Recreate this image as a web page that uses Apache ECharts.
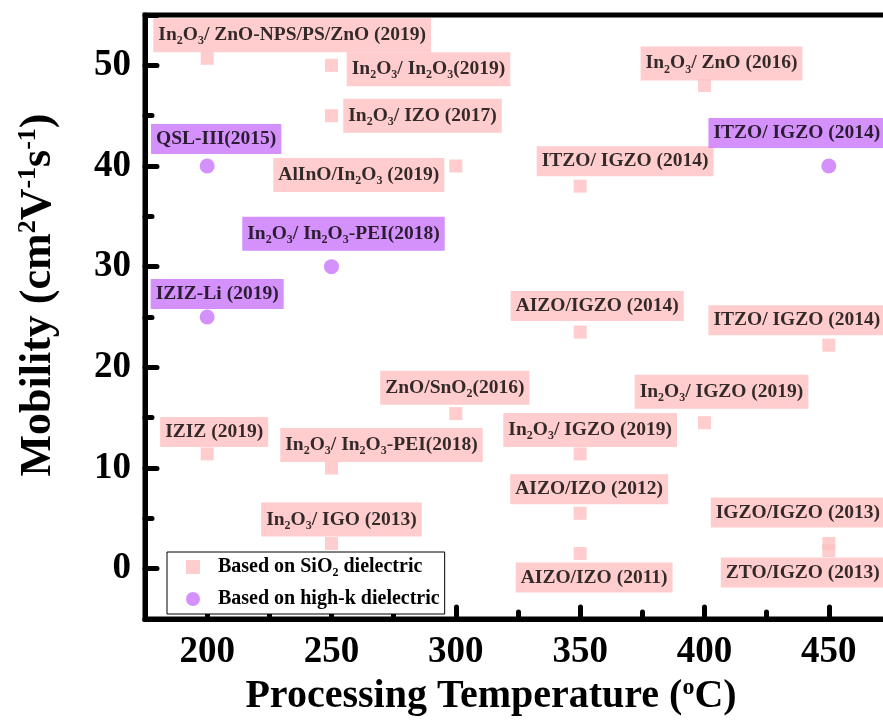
<!DOCTYPE html>
<html>
<head>
<meta charset="utf-8">
<script src="https://cdn.jsdelivr.net/npm/echarts@6/dist/echarts.min.js"></script>
<style>
  html, body { margin: 0; padding: 0; background: #fff; }
  #chart { width: 883px; height: 725px; }
</style>
</head>
<body>
<div id="chart"></div>
<script>
// data
const sio2Temp = [200, 250, 250, 300, 400, 350, 350, 450, 300, 400, 350, 200, 250, 250, 350, 350, 450, 450];
const sio2Mobility = [50.7, 50, 45, 40, 48, 38, 23.5, 22.2, 15.4, 14.5, 11.4, 11.4, 10, 2.5, 5.5, 1.5, 2.5, 1.8];
const sio2Labels = [
    'In₂O₃/ ZnO-NPS/PS/ZnO (2019)', 'In₂O₃/ In₂O₃(2019)', 'In₂O₃/ IZO (2017)', 'AlInO/In₂O₃ (2019)',
    'In₂O₃/ ZnO (2016)', 'ITZO/ IGZO (2014)', 'AIZO/IGZO (2014)', 'ITZO/ IGZO (2014)',
    'ZnO/SnO₂(2016)', 'In₂O₃/ IGZO (2019)', 'In₂O₃/ IGZO (2019)', 'IZIZ (2019)',
    'In₂O₃/ In₂O₃-PEI(2018)', 'In₂O₃/ IGO (2013)', 'AIZO/IZO (2012)', 'AIZO/IZO (2011)',
    'IGZO/IGZO (2013)', 'ZTO/IGZO (2013)'
];
const highkTemp = [200, 250, 200, 450];
const highkMobility = [40, 30, 25, 40];
const highkLabels = ['QSL-III(2015)', 'In₂O₃/ In₂O₃-PEI(2018)', 'IZIZ-Li (2019)', 'ITZO/ IGZO (2014)'];

// where each tag box sits relative to its point (px)
const sio2LabelOffsets = [
    [85, -23], [97, 4], [91, 0], [-97, 9], [17, -22], [45, -25], [17, -26], [-32, -25], [-1, -26],
    [17, -31], [10, -24], [7, -22], [50, -23], [10, -24], [9, -24], [14, 24], [-31, -31], [-26, 22]
];
const highkLabelOffsets = [[9, -27], [12, -33], [10, -23], [-32, -33]];

const FONT = '"Liberation Serif", "Times New Roman", serif';
const PINK = '#FFC0C0';
const PURPLE = '#CB75FA';

const subStyle = { fontSize: 12, fontWeight: 'bold', fontFamily: FONT, color: '#000', padding: [12, 0, 0, 0] };

// ₂ ₃ -> rich subscript
const toRich = (s) => s.replace(/₂/g, '{sub|2}').replace(/₃/g, '{sub|3}');

const tagLabel = (bg) => ({
    show: true,
    position: 'inside',
    formatter: (p) => toRich(p.name),
    color: '#000',
    fontSize: 19.5,
    fontWeight: 'bold',
    fontFamily: FONT,
    backgroundColor: bg,
    padding: [5, 5, 5, 5],
    rich: { sub: subStyle }
});

const chart = echarts.init(document.getElementById('chart'));

const option = {
    animation: false,
    grid: {
        left: 145, right: -8, top: 15, bottom: 106,
        containLabel: false,
        outerBoundsMode: 'none',
        show: true, borderColor: '#000', borderWidth: 5, backgroundColor: 'transparent'
    },
    legend: {
        orient: 'vertical',
        left: 167, top: 552,
        itemWidth: 14, itemHeight: 14, itemGap: 10,
        backgroundColor: '#fff', borderColor: '#000', borderWidth: 1,
        padding: [5, 5, 5, 19],
        formatter: (n) => toRich(n),
        textStyle: {
            fontSize: 20, fontWeight: 'bold', fontFamily: FONT, color: '#000',
            padding: [0, 0, 0, 13],
            rich: { sub: subStyle }
        }
    },
    xAxis: {
        type: 'value',
        min: 175, max: 475,
        minInterval: 50, maxInterval: 50,
        splitLine: { show: false },
        axisLine: { onZero: false, lineStyle: { color: '#000', width: 5 } },
        axisTick: { inside: true, length: 12, lineStyle: { color: '#000', width: 5, cap: 'round' } },
        minorTick: { show: true, splitNumber: 2, length: 7, lineStyle: { color: '#000', width: 5, cap: 'round' } },
        axisLabel: {
            margin: 15, color: '#000', fontSize: 37, fontWeight: 'bold', fontFamily: FONT,
            formatter: (v) => (v % 50 === 0 ? v : '')
        },
        name: 'Processing Temperature ({sup|o}C)',
        nameLocation: 'middle',
        nameGap: 52,
        nameTextStyle: {
            color: '#000', fontSize: 40, fontWeight: 'bold', fontFamily: FONT,
            padding: [0, 54, 0, 0],
            rich: { sup: { fontSize: 24, fontWeight: 'bold', fontFamily: FONT, color: '#000', padding: [0, 0, 18, 0] } }
        }
    },
    yAxis: {
        type: 'value',
        min: -5, max: 55,
        minInterval: 10, maxInterval: 10,
        splitLine: { show: false },
        axisLine: { onZero: false, lineStyle: { color: '#000', width: 5 } },
        axisTick: { inside: true, length: 12, lineStyle: { color: '#000', width: 5, cap: 'round' } },
        minorTick: { show: true, splitNumber: 2, length: 7, lineStyle: { color: '#000', width: 5, cap: 'round' } },
        axisLabel: {
            margin: 14, color: '#000', fontSize: 37, fontWeight: 'bold', fontFamily: FONT,
            formatter: (v) => (v % 10 === 0 && v >= 0 && v <= 50 ? v : '')
        },
        name: 'Mobility (cm{sup|2}V{sup|-1}s{sup|-1})',
        nameLocation: 'middle',
        nameGap: 82,
        nameTextStyle: {
            color: '#000', fontSize: 44, fontWeight: 'bold', fontFamily: FONT,
            padding: [0, 0, 0, 44],
            rich: { sup: { fontSize: 26, fontWeight: 'bold', fontFamily: FONT, color: '#000', padding: [0, 0, 22, 0] } }
        }
    },
    series: [
        {
            name: 'Based on SiO₂ dielectric',
            type: 'scatter',
            symbol: 'rect',
            symbolSize: 13,
            itemStyle: { color: PINK },
            label: tagLabel(PINK),
            emphasis: { disabled: true },
            data: sio2Temp.map((t, i) => ({
                value: [t, sio2Mobility[i]],
                name: sio2Labels[i],
                label: { offset: sio2LabelOffsets[i] }
            }))
        },
        {
            name: 'Based on high-k dielectric',
            type: 'scatter',
            symbol: 'circle',
            symbolSize: 15,
            itemStyle: { color: PURPLE },
            label: tagLabel(PURPLE),
            emphasis: { disabled: true },
            data: highkTemp.map((t, i) => ({
                value: [t, highkMobility[i]],
                name: highkLabels[i],
                label: { offset: highkLabelOffsets[i] }
            }))
        }
    ]
};

chart.setOption(option);
</script>
</body>
</html>
